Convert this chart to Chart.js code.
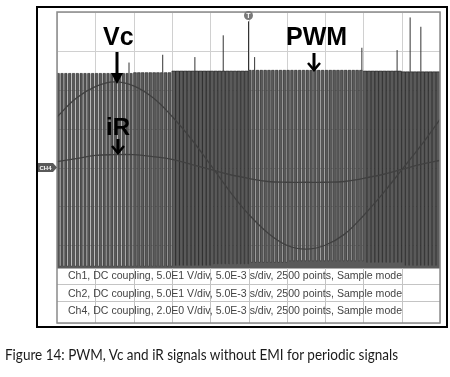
<!DOCTYPE html>
<html>
<head>
<meta charset="utf-8">
<script src="https://cdn.jsdelivr.net/npm/chart.js@4.4.1/dist/chart.umd.min.js"></script>
<style>
  body { margin: 0; background: #fff; }
  #wrap { position: relative; width: 450px; height: 377px; overflow: hidden; background: #fff; }
  #scope { position: absolute; left: 0; top: 0; }
  #caption { position: absolute; left: 5px; top: 346px; font: 16px Lato, "Noto Sans", sans-serif; line-height: 16px; color: #1a1a1a; white-space: nowrap; transform-origin: 0 0; }
</style>
</head>
<body>
<div id="wrap">
  <canvas id="scope" width="450" height="377"></canvas>
  <div id="caption">Figure 14: PWM, Vc and iR signals without EMI for periodic signals</div>
</div>
<script>
// scope settings (from the info box)
const VOLT_DIV = 50;   // Ch1, Ch2: 5.0E1 V/div
const AMP_DIV = 2;     // Ch4: 2.0E0 /div
const PWM_PERIOD = 0.5; // ms

// sample times, ms (5 ms/div, trigger at 0)
const timeMs = [-25, -22.5, -20, -17.5, -15, -12.5, -10, -7.5, -5, -2.5, 0,
                2.5, 5, 7.5, 10, 12.5, 15, 17.5, 20, 22.5, 25];

// Vc (Ch2), volts
const vc = [65, 89, 104, 110, 105, 90, 66, 37, 4, -30, -60,
            -84, -100, -105, -100, -86, -62, -34, -3, 28, 62];

// iR (Ch4)
const iR = [0.3, 0.46, 0.62, 0.66, 0.66, 0.56, 0.42, 0.16, -0.1, -0.36, -0.56,
            -0.72, -0.76, -0.76, -0.76, -0.72, -0.56, -0.36, -0.1, 0.16, 0.36];

// PWM (Ch1), one value per division
const pwmDuty = [0.62, 0.64, 0.72, 0.95, 0.9, 0.7, 0.68, 0.72, 0.93, 0.92];
const pwmHigh = [121, 121, 122, 124, 124, 125, 125, 125, 124, 123];
const pwmLow = [-127, -127, -127, -126, -124, -122, -120, -120, -122, -126];

// overshoot spikes on the PWM top
const spikeTime = [-15.6, -11.2, -7.0, -3.3, 0, 0.8, 14.8, 19.4, 21.1, 22.5];
const spikeTop = [135, 145, 142, 170, 188, 142, 154, 151, 193, 181];

const infoLines = [
    "Ch1, DC coupling, 5.0E1 V/div, 5.0E-3 s/div, 2500 points, Sample mode",
    "Ch2, DC coupling, 5.0E1 V/div, 5.0E-3 s/div, 2500 points, Sample mode",
    "Ch4, DC coupling, 2.0E0 V/div, 5.0E-3 s/div, 2500 points, Sample mode"
];

// build the pulse train from the per-division readings
const pwmPoints = [];
pwmDuty.forEach((d, k) => {
    for (let i = 0; i < 10; i++) {
        const t0 = -25 + (k * 10 + i) * PWM_PERIOD;
        pwmPoints.push({ x: t0, y: pwmHigh[k] / VOLT_DIV });
        pwmPoints.push({ x: t0 + d * PWM_PERIOD, y: pwmLow[k] / VOLT_DIV });
    }
});
pwmPoints.push({ x: 25, y: pwmLow[9] / VOLT_DIV });

const spikePoints = [];
spikeTime.forEach((t, i) => {
    const k = Math.min(9, Math.floor((t + 25) / 5));
    spikePoints.push({ x: t, y: pwmHigh[k] / VOLT_DIV });
    spikePoints.push({ x: t, y: spikeTop[i] / VOLT_DIV });
    spikePoints.push({ x: t, y: null });
});

function arrow(ctx, x, y1, y2, solid) {
    ctx.save();
    ctx.strokeStyle = '#000';
    ctx.fillStyle = '#000';
    ctx.lineWidth = 3;
    ctx.beginPath();
    ctx.moveTo(x, y1);
    ctx.lineTo(x, solid ? y2 - 8 : y2);
    ctx.stroke();
    if (solid) {
        ctx.beginPath();
        ctx.moveTo(x - 6, y2 - 11);
        ctx.lineTo(x + 6, y2 - 11);
        ctx.lineTo(x, y2);
        ctx.closePath();
        ctx.fill();
    } else {
        ctx.lineWidth = 2.5;
        ctx.beginPath();
        ctx.moveTo(x - 6, y2 - 7);
        ctx.lineTo(x, y2);
        ctx.lineTo(x + 6, y2 - 7);
        ctx.stroke();
    }
    ctx.restore();
}

const scopeFrame = {
    id: 'scopeFrame',
    beforeDatasetsDraw(chart) {
        const { ctx, chartArea: a, scales: { x, y } } = chart;
        ctx.save();
        ctx.strokeStyle = '#d0d0d0';
        ctx.lineWidth = 1;
        for (let t = -25; t <= 25; t += 5) {
            const px = Math.round(x.getPixelForValue(t)) + 0.5;
            ctx.beginPath(); ctx.moveTo(px, a.top); ctx.lineTo(px, a.bottom); ctx.stroke();
        }
        for (let v = -4; v <= 4; v++) {
            const py = Math.round(y.getPixelForValue(v)) + 0.5;
            ctx.beginPath(); ctx.moveTo(a.left, py); ctx.lineTo(a.right, py); ctx.stroke();
        }
        ctx.restore();
    },
    afterDatasetsDraw(chart) {
        const { ctx, chartArea: a, scales: { x, y } } = chart;
        ctx.save();

        // info box over the bottom of the screen
        const boxTop = 268.5;
        ctx.fillStyle = '#fff';
        ctx.fillRect(a.left, boxTop, a.right - a.left, a.bottom - boxTop);
        ctx.strokeStyle = '#c4c4c4';
        ctx.lineWidth = 1;
        for (let t = -20; t <= 20; t += 5) {
            const px = Math.round(x.getPixelForValue(t)) + 0.5;
            ctx.beginPath(); ctx.moveTo(px, boxTop); ctx.lineTo(px, a.bottom); ctx.stroke();
        }
        [284.5, 301.5].forEach(py => {
            ctx.beginPath(); ctx.moveTo(a.left, py); ctx.lineTo(a.right, py); ctx.stroke();
        });
        ctx.fillStyle = '#444';
        ctx.font = '10px "Liberation Sans", Arial, sans-serif';
        ctx.textBaseline = 'middle';
        infoLines.forEach((s, i) => {
            const w = ctx.measureText(s).width;
            ctx.save();
            ctx.translate(a.left + 11, 276.5 + i * 17.5);
            ctx.scale(334 / w, 1);
            ctx.fillText(s, 0, 0);
            ctx.restore();
        });

        // screen border and outer frame
        ctx.strokeStyle = '#8a8a8a';
        ctx.lineWidth = 1.5;
        ctx.strokeRect(a.left, a.top, a.right - a.left, a.bottom - a.top);
        ctx.strokeStyle = '#000';
        ctx.lineWidth = 2;
        ctx.strokeRect(a.left - 20, a.top - 5, a.right - a.left + 27, a.bottom - a.top + 9);

        // trigger marker
        const tx = x.getPixelForValue(0);
        ctx.fillStyle = '#7a7a7a';
        ctx.beginPath(); ctx.arc(tx, a.top + 3.5, 4.5, 0, Math.PI * 2); ctx.fill();
        ctx.fillStyle = '#fff';
        ctx.font = 'bold 7px "Liberation Sans", Arial, sans-serif';
        ctx.textAlign = 'center';
        ctx.fillText('T', tx, a.top + 4);

        // CH4 ground marker
        const gy = y.getPixelForValue(0);
        ctx.fillStyle = '#5a5a5a';
        ctx.beginPath();
        ctx.moveTo(a.left - 19, gy - 4.5);
        ctx.lineTo(a.left - 4, gy - 4.5);
        ctx.lineTo(a.left, gy);
        ctx.lineTo(a.left - 4, gy + 4.5);
        ctx.lineTo(a.left - 19, gy + 4.5);
        ctx.closePath();
        ctx.fill();
        ctx.fillStyle = '#fff';
        ctx.font = 'bold 6px "Liberation Sans", Arial, sans-serif';
        ctx.fillText('CH4', a.left - 11.5, gy + 0.5);

        // signal labels
        ctx.fillStyle = '#000';
        ctx.textAlign = 'left';
        ctx.textBaseline = 'alphabetic';
        ctx.font = 'bold 25px "Liberation Sans", Arial, sans-serif';
        ctx.fillText('Vc', 103, 45);
        ctx.fillText('PWM', 286, 45);
        ctx.font = 'bold 24px "Liberation Sans", Arial, sans-serif';
        ctx.fillText('iR', 106, 135);
        arrow(ctx, 117, 52, 84, true);
        arrow(ctx, 314, 53, 70, false);
        arrow(ctx, 118, 139, 153, false);

        ctx.restore();
    }
};

new Chart(document.getElementById('scope'), {
    type: 'line',
    data: {
        datasets: [
            {
                label: 'Vc',
                data: timeMs.map((t, i) => ({ x: t, y: vc[i] / VOLT_DIV })),
                borderColor: '#404040',
                borderWidth: 1.3,
                pointRadius: 0,
                tension: 0.4,
                order: 1
            },
            {
                label: 'iR',
                data: timeMs.map((t, i) => ({ x: t, y: iR[i] / AMP_DIV })),
                borderColor: '#404040',
                borderWidth: 1.3,
                pointRadius: 0,
                tension: 0.4,
                order: 2
            },
            {
                label: 'PWM spikes',
                data: spikePoints,
                borderColor: '#333',
                borderWidth: 1,
                pointRadius: 0,
                spanGaps: false,
                order: 3
            },
            {
                label: 'PWM',
                data: pwmPoints,
                stepped: 'before',
                borderColor: '#1e1e1e',
                borderWidth: 0.6,
                backgroundColor: '#5a5a5a',
                fill: { value: -2.62 },
                pointRadius: 0,
                order: 4
            }
        ]
    },
    options: {
        responsive: false,
        animation: false,
        devicePixelRatio: 1,
        layout: { padding: { left: 57, right: 10, top: 12, bottom: 54 } },
        plugins: { legend: { display: false }, tooltip: { enabled: false } },
        scales: {
            x: { type: 'linear', min: -25, max: 25, display: false },
            y: { type: 'linear', min: -4, max: 4, display: false }
        }
    },
    plugins: [scopeFrame]
});

const cap = document.getElementById('caption');
const cw = cap.getBoundingClientRect().width;
cap.style.transform = 'scaleX(' + (393 / cw) + ')';
</script>
</body>
</html>
